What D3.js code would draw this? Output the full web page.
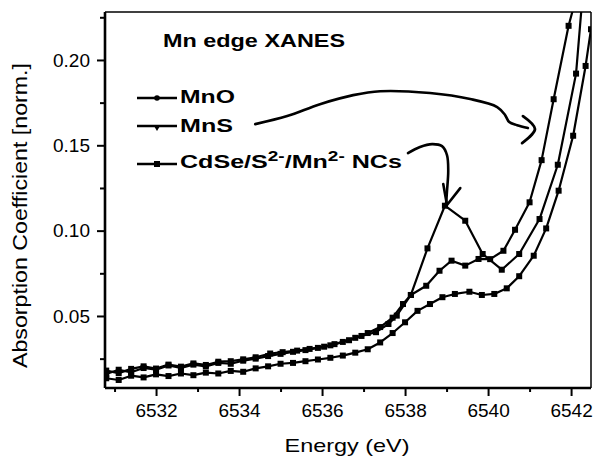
<!DOCTYPE html>
<html><head><meta charset="utf-8">
<script src="https://cdn.jsdelivr.net/npm/d3@7"></script>
<style>
body{margin:0;background:#fff;}
text{font-family:"Liberation Sans",Arial,Helvetica,sans-serif;fill:#000;}
</style></head>
<body><svg id="c" width="597" height="460"></svg>
<script>
// ---- data ----
const xTicks = [6532, 6534, 6536, 6538, 6540, 6542];
const xMinorTicks = [6531, 6533, 6535, 6537, 6539, 6541];
const yTicks = [0.05, 0.10, 0.15, 0.20];
const yMinorTicks = [0.025, 0.075, 0.125, 0.175, 0.225];

const seriesNames = ["MnO", "MnS", "CdSe/S2-/Mn2- NCs"];

const energyMnO = [6530.8,6531.1,6531.4,6531.7,6532.0,6532.3,6532.6,6532.9,6533.2,6533.5,6533.8,6534.1,6534.4,6534.7,6535.0,6535.3,6535.6,6535.9,6536.2,6536.5,6536.8,6537.1,6537.4,6537.7,6538.0,6538.3,6538.6,6538.9,6539.2,6539.55,6539.85,6540.15,6540.45,6540.75,6541.1,6541.4,6541.7,6542.05,6542.35,6542.48];
const absMnO = [0.0135,0.0125,0.0150,0.0140,0.0158,0.0148,0.0163,0.0153,0.0168,0.0163,0.0178,0.0173,0.0193,0.0205,0.0220,0.0225,0.0235,0.0245,0.0255,0.0268,0.0285,0.0305,0.0345,0.0400,0.0463,0.0530,0.0570,0.0610,0.0629,0.0642,0.0623,0.0629,0.0662,0.0733,0.0853,0.1013,0.1234,0.1556,0.1965,0.2180];

const energyMnS = [6530.8,6531.1,6531.4,6531.7,6532.0,6532.3,6532.6,6532.9,6533.2,6533.5,6533.8,6534.1,6534.4,6534.7,6535.0,6535.3,6535.6,6535.9,6536.2,6536.5,6536.8,6537.1,6537.4,6537.7,6537.95,6538.14,6538.51,6538.83,6539.12,6539.45,6539.77,6540.05,6540.37,6540.65,6541.0,6541.29,6541.58,6541.94,6542.05];
const absMnS = [0.0160,0.0185,0.0170,0.0195,0.0185,0.0210,0.0195,0.0215,0.0205,0.0225,0.0220,0.0238,0.0250,0.0265,0.0278,0.0290,0.0300,0.0313,0.0328,0.0348,0.0372,0.0400,0.0435,0.0490,0.0570,0.0623,0.0677,0.0765,0.0824,0.0795,0.0834,0.0833,0.0882,0.1005,0.1166,0.1413,0.1770,0.2200,0.2300];

const energyNCs = [6530.8,6531.1,6531.4,6531.7,6532.0,6532.3,6532.6,6532.9,6533.2,6533.5,6533.8,6534.1,6534.4,6534.75,6535.05,6535.4,6535.7,6536.05,6536.3,6536.65,6536.95,6537.3,6537.6,6537.8,6538.14,6538.54,6538.96,6539.45,6539.87,6540.33,6540.75,6541.24,6541.68,6542.12,6542.25];
const absNCs = [0.0180,0.0165,0.0190,0.0205,0.0192,0.0215,0.0203,0.0222,0.0213,0.0232,0.0235,0.0246,0.0258,0.0280,0.0288,0.0297,0.0307,0.0320,0.0335,0.0358,0.0383,0.0405,0.0453,0.0502,0.0623,0.0896,0.1146,0.1058,0.0863,0.0771,0.0863,0.1068,0.1386,0.1920,0.2300];

// hand-drawn annotation arrows (data coordinates)
const arrowMnSE = [6534.39,6535.16,6535.95,6536.75,6537.40,6538.60,6539.57,6540.22,6540.41,6540.51,6540.70,6540.96];
const arrowMnSA = [0.1624,0.1671,0.1741,0.1794,0.1817,0.1806,0.1771,0.1724,0.1677,0.1636,0.1618,0.1601];
const headMnSE = [6540.84,6541.13,6540.82];
const headMnSA = [0.1671,0.1595,0.1513];
const arrowNCsE = [6538.07,6538.36,6538.65,6538.89,6539.01,6539.04,6539.01,6538.99];
const arrowNCsA = [0.1454,0.1490,0.1507,0.1495,0.1443,0.1349,0.1232,0.1162];
const headNCsE = [6538.92,6539.01,6539.33];
const headNCsA = [0.1273,0.1150,0.1249];

// ---- layout ----
const W = 597, H = 460;
const m = {l:105, t:12, r:6, b:72};
const svg = d3.select("#c");
const x = d3.scaleLinear().domain([6530.77, 6542.48]).range([m.l, W - m.r]);
const y = d3.scaleLinear().domain([0.0078, 0.2281]).range([H - m.b, m.t]);

svg.append("defs").append("clipPath").attr("id","clip")
  .append("rect").attr("x", m.l).attr("y", m.t).attr("width", W-m.l-m.r).attr("height", H-m.t-m.b);

// axes
const fs = 19;
const xAxis = svg.append("g").attr("transform", `translate(0,${H-m.b})`)
  .call(d3.axisBottom(x).tickValues(xTicks).tickFormat(d3.format("d")).tickSize(8).tickPadding(8));
svg.append("g").attr("transform", `translate(0,${H-m.b})`)
  .call(d3.axisBottom(x).tickValues(xMinorTicks).tickFormat("").tickSize(4));
const yAxis = svg.append("g").attr("transform", `translate(${m.l},0)`)
  .call(d3.axisLeft(y).tickValues(yTicks).tickFormat(d3.format(".2f")).tickSize(8).tickPadding(7));
svg.append("g").attr("transform", `translate(${m.l},0)`)
  .call(d3.axisLeft(y).tickValues(yMinorTicks).tickFormat("").tickSize(5));
svg.selectAll(".domain").remove();
svg.selectAll(".tick line").attr("stroke","#000").attr("stroke-width",2);
svg.selectAll(".tick text").attr("font-size", fs).attr("font-family","Liberation Sans, Arial, sans-serif");

// frame
svg.append("line").attr("x1",m.l).attr("x2",m.l).attr("y1",m.t).attr("y2",H-m.b).attr("stroke","#000").attr("stroke-width",2.6);
svg.append("line").attr("x1",m.l).attr("x2",W-m.r).attr("y1",H-m.b).attr("y2",H-m.b).attr("stroke","#000").attr("stroke-width",2.6);
svg.append("line").attr("x1",m.l).attr("x2",W-m.r).attr("y1",m.t).attr("y2",m.t).attr("stroke","#000").attr("stroke-width",1.5);
svg.append("line").attr("x1",W-m.r).attr("x2",W-m.r).attr("y1",m.t).attr("y2",H-m.b).attr("stroke","#000").attr("stroke-width",1.5);

// axis titles
svg.append("text").attr("x", 347).attr("y", 452).attr("text-anchor","middle")
  .attr("font-size", 19).attr("textLength", 125).attr("lengthAdjust","spacingAndGlyphs").text("Energy (eV)");
svg.append("text").attr("transform", "translate(27,215.5) rotate(-90)").attr("text-anchor","middle")
  .attr("font-size", 19.5).attr("textLength", 305).attr("lengthAdjust","spacingAndGlyphs").text("Absorption Coefficient [norm.]");

// data
const plot = svg.append("g").attr("clip-path","url(#clip)");
const zip = (es, as) => es.map((e,i) => [e, as[i]]);
const series = [
  {name: seriesNames[0], pts: zip(energyMnO, absMnO)},
  {name: seriesNames[1], pts: zip(energyMnS, absMnS)},
  {name: seriesNames[2], pts: zip(energyNCs, absNCs)}
];
const line = d3.line().x(d => x(d[0])).y(d => y(d[1]));
series.forEach(s => {
  plot.append("path").attr("d", line(s.pts)).attr("fill","none").attr("stroke","#000").attr("stroke-width",2.2).attr("stroke-linejoin","round");
  plot.selectAll(null).data(s.pts).enter().append("rect")
    .attr("x", d => x(d[0]) - 3).attr("y", d => y(d[1]) - 3).attr("width", 6).attr("height", 6).attr("fill","#000");
});

// annotation arrows
const curve = d3.line().x(d => x(d[0])).y(d => y(d[1])).curve(d3.curveCatmullRom);
const straight = d3.line().x(d => x(d[0])).y(d => y(d[1]));
svg.append("path").attr("d", curve(zip(arrowMnSE, arrowMnSA))).attr("fill","none").attr("stroke","#000").attr("stroke-width",2.6).attr("stroke-linecap","round");
svg.append("path").attr("d", curve(zip(headMnSE, headMnSA))).attr("fill","none").attr("stroke","#000").attr("stroke-width",2.8).attr("stroke-linecap","round");
svg.append("path").attr("d", curve(zip(arrowNCsE, arrowNCsA))).attr("fill","none").attr("stroke","#000").attr("stroke-width",2.6).attr("stroke-linecap","round");
svg.append("path").attr("d", straight(zip(headNCsE, headNCsA))).attr("fill","none").attr("stroke","#000").attr("stroke-width",2.6).attr("stroke-linecap","round").attr("stroke-linejoin","round");

// title and legend
svg.append("text").attr("x",163).attr("y",47).attr("font-size",18.5).attr("font-weight","bold")
  .attr("textLength",182).attr("lengthAdjust","spacingAndGlyphs").text("Mn edge XANES");

const legY = [98, 126, 164];
const legBase = [103, 132, 168];
const legWidth = [55, 53, 222];
series.forEach((s,i) => {
  svg.append("line").attr("x1",137).attr("x2",177).attr("y1",legY[i]).attr("y2",legY[i]).attr("stroke","#000").attr("stroke-width",2.4);
  if (i === 0) svg.append("circle").attr("cx",157).attr("cy",legY[i]).attr("r",2.8).attr("fill","#000");
  if (i === 1) svg.append("path").attr("d", d3.symbol(d3.symbolTriangle, 22)()).attr("transform",`translate(157,${legY[i]+1}) rotate(180)`).attr("fill","#000");
  if (i === 2) svg.append("rect").attr("x",154).attr("y",legY[i]-3).attr("width",6).attr("height",6).attr("fill","#000");
  const t = svg.append("text").attr("x",0).attr("y",0).attr("font-size",18.5).attr("font-weight","bold");
  if (i < 2) {
    t.text(s.name);
  } else {
    t.append("tspan").text("CdSe/S");
    t.append("tspan").attr("dy",-7).attr("font-size",14).text("2-");
    t.append("tspan").attr("dy",7).text("/Mn");
    t.append("tspan").attr("dy",-7).attr("font-size",14).text("2-");
    t.append("tspan").attr("dy",7).text(" NCs");
  }
  const w = t.node().getBBox().width;
  t.attr("transform", `translate(180,${legBase[i]}) scale(${legWidth[i]/w},1)`);
});
</script></body></html>
